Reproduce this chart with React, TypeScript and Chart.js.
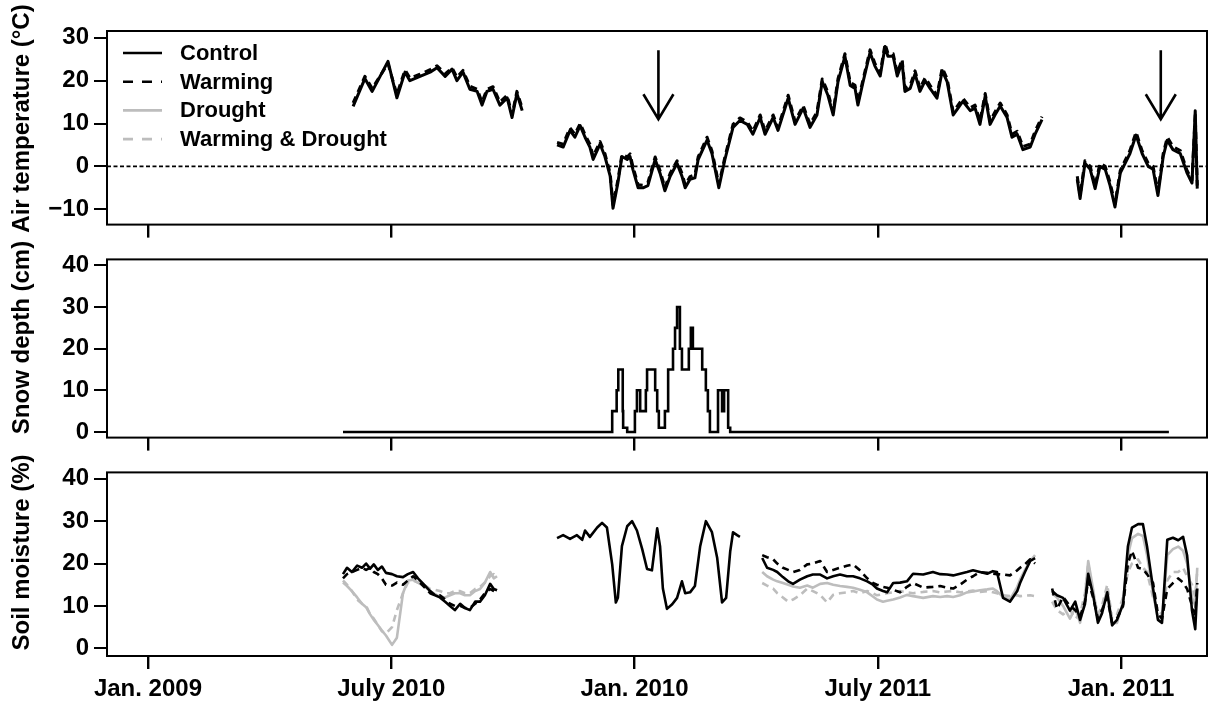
import React, { useEffect, useRef } from 'react';
import { Chart, registerables } from 'chart.js';

Chart.register(...registerables);

const FONT = "'Liberation Sans', Arial, Helvetica, sans-serif";
const BLACK = '#000000';
const GRAY = '#bdbdbd';

// x axis: months counted from the first tick
const xMin = -1.01;
const xMax = 26.12;
const xTickMonths = [0, 6, 12, 18, 24];
const xTickLabels = ['Jan. 2009', 'July 2010', 'Jan. 2010', 'July 2011', 'Jan. 2011'];

const airTicks = [-10, 0, 10, 20, 30];
const snowTicks = [0, 10, 20, 30, 40];
const soilTicks = [0, 10, 20, 30, 40];

const legendLabels = ['Control', 'Warming', 'Drought', 'Warming & Drought'];

const arrowMonths = [12.59, 24.98];
const arrowTopValue = 27.1;
const arrowTipValue = 11.0;

// ---------- Air temperature ----------
const airDatesA = [5.06, 5.35, 5.53, 5.92, 6.14, 6.34, 6.46, 6.71, 6.96, 7.13, 7.33, 7.5, 7.62, 7.77, 7.94, 8.12, 8.24, 8.36, 8.51, 8.68, 8.86, 8.98, 9.1, 9.23];
const airControlA = [14, 20.5, 17.5, 24.5, 16, 22, 20, 21, 22, 23, 21, 22.7, 20, 22, 18, 17.5, 14.3, 17.5, 18, 14.3, 16, 11.4, 17, 13];
const airWarmingA = [14.8, 21, 18.2, 24, 16.8, 22.5, 20.6, 21.5, 22.6, 23.5, 21.6, 23, 20.8, 22.4, 18.7, 18, 15, 18, 18.6, 15, 16.6, 12, 17.5, 13.6];

const airDatesB = [
  10.09, 10.24, 10.41, 10.53, 10.66, 10.78, 10.9, 10.98, 11.15, 11.27,
  11.4, 11.47, 11.59, 11.69, 11.82, 11.89, 11.96, 12.09, 12.21, 12.33,
  12.51, 12.63, 12.75, 12.88, 13.05, 13.17, 13.25, 13.37, 13.49, 13.57,
  13.79, 13.91, 13.99, 14.08, 14.23, 14.43, 14.6, 14.78, 14.92, 15.1,
  15.22, 15.42, 15.54, 15.79, 15.96, 16.16, 16.33, 16.5, 16.63, 16.77,
  16.9, 17.02, 17.19, 17.32, 17.44, 17.51, 17.64, 17.81, 17.93, 18.06,
  18.18, 18.25, 18.38, 18.48, 18.6, 18.67, 18.8, 18.92, 19.04, 19.17,
  19.29, 19.46, 19.59, 19.71, 19.86, 19.98, 20.1, 20.28, 20.4, 20.52,
  20.65, 20.77, 20.89, 21.02, 21.19, 21.31, 21.44, 21.58, 21.76, 21.88,
  22.05,
];
const airControlB = [
  5.0, 4.5, 8.4, 6.8, 9.5, 6.8, 4.5, 1.6, 5.2, 2.3,
  -2.3, -9.8, -3.9, 2.3, 1.6, 2.3, -0.7, -5, -5, -4.5,
  1.6, -1.6, -5.7, -2.3, 0.7, -2.3, -5, -3, -2.7, 1.6,
  6.1, 3, -0.7, -5, 1.6, 9.1, 10.7, 9.8, 7.5, 11.4,
  7.5, 11.4, 8.4, 15.9, 9.8, 13.6, 9.1, 12, 19.8, 16.6,
  12, 19.8, 25.7, 18.9, 18.2, 14.3, 19.8, 26.6, 23.4, 21.1,
  28, 25.7, 25.7, 21.1, 24.3, 17.5, 18.2, 21.6, 17.5, 20,
  18.2, 15.9, 22.3, 19.8, 12, 13.6, 15.2, 13, 13.6, 9.8,
  16.4, 9.8, 12, 14.1, 11.4, 6.8, 7.5, 3.9, 4.5, 7.5,
  10.9,
];
const airWarmingB = [
  5.6, 5.2, 9, 7.5, 10, 7.4, 5.2, 2.3, 5.8, 3,
  -1.6, -9, -3.2, 2.8, 2.2, 2.9, 0, -4.3, -4.4, -3.8,
  2.2, -1, -5, -1.6, 1.3, -1.6, -4.3, -2.4, -2, 2.2,
  6.8, 3.6, 0, -4.3, 2.2, 9.8, 11.3, 10.4, 8.2, 12,
  8.2, 12, 9, 16.6, 10.5, 14.2, 9.8, 12.7, 20.4, 17.3,
  12.7, 20.5, 26.3, 19.6, 18.9, 15, 20.4, 27.2, 24, 21.8,
  28.6, 26.4, 26.3, 21.8, 25, 18.2, 18.9, 22.3, 18.2, 20.7,
  18.9, 16.6, 23, 20.5, 12.7, 14.3, 15.9, 13.7, 14.3, 10.5,
  17, 10.5, 12.7, 14.8, 12, 7.5, 8.2, 4.6, 5.2, 8.2,
  11.6,
];

const airDatesC = [22.92, 22.99, 23.11, 23.24, 23.36, 23.48, 23.61, 23.73, 23.85, 23.98, 24.1, 24.22, 24.37, 24.52, 24.67, 24.79, 24.91, 25.04, 25.14, 25.28, 25.46, 25.63, 25.75, 25.83, 25.88];
const airControlC = [-3, -7.5, 0.7, -0.7, -5.2, 0, -0.7, -4.5, -9.5, -1.6, 0.7, 3, 7.3, 3, 0, -0.7, -6.8, 2.3, 6.1, 3.9, 3, -1.6, -3.9, 13, -5.2];
const airWarmingC = [-2.3, -6.8, 1.3, 0, -4.5, 0.7, 0, -3.8, -8.8, -1, 1.4, 3.7, 8, 3.6, 0.7, 0, -6, 3, 6.8, 4.6, 3.7, -1, -3.2, 12, -4.5];

// ---------- Snow depth ----------
const snowDates = [
  4.81, 11.45, 11.56, 11.6, 11.71, 11.72, 11.82, 12.01, 12.06, 12.14,
  12.28, 12.31, 12.51, 12.56, 12.6, 12.75, 12.83, 12.95, 13.0, 13.05,
  13.12, 13.17, 13.34, 13.39, 13.44, 13.67, 13.76, 13.81, 13.86, 14.06,
  14.16, 14.21, 14.31, 14.36, 25.18,
];
const snowDepth = [
  0, 5, 10, 15, 5, 1, 0, 5, 10, 5,
  10, 15, 10, 5, 1, 5, 15, 20, 25, 30,
  20, 15, 20, 25, 20, 15, 10, 5, 0, 10,
  5, 10, 1, 0, 0,
];

// ---------- Soil moisture ----------
const soilDatesA = [4.81, 4.91, 5.03, 5.16, 5.28, 5.38, 5.48, 5.57, 5.67, 5.77, 5.87, 6.02, 6.14, 6.29, 6.41, 6.54, 6.66, 6.81, 6.96, 7.08, 7.2, 7.33, 7.45, 7.57, 7.7, 7.82, 7.94, 8.07, 8.19, 8.31, 8.44, 8.53, 8.61];
const soilControlA = [17.5, 19, 18, 19.5, 19, 20, 18.8, 19.8, 18.5, 19.3, 17.8, 17.5, 17, 16.8, 17.5, 18, 16.5, 15, 13.5, 12.5, 12, 11, 10, 9, 10.5, 9.5, 9, 11, 11, 12.5, 15.2, 14, 13.7];
const soilWarmingA = [16.5, 17.5, 18, 18.5, 19, 18.5, 19, 18, 17.5, 16.5, 15, 14.8, 15.5, 15, 16, 17, 16, 14.5, 13, 12.5, 12.5, 11.5, 10.5, 10, 10, 9.5, 9.5, 10.5, 11.5, 13, 14, 13.5, 13];
const soilDroughtA = [15.5, 14.7, 13.5, 12, 10.5, 9.7, 8, 6.7, 5.5, 4.2, 3, 0.8, 2.5, 13, 16, 16.2, 15.5, 14.7, 13.5, 12.8, 12.2, 12, 12.5, 13, 13, 12.5, 12.5, 13.5, 14, 15.5, 18, 16.5, 17];
const soilWDA = [16, 15, 13.5, 11.5, 10.5, 10, 8, 7, 5.5, 4, 3.5, 5, 9, 13, 15.5, 16, 15.5, 15, 14, 13.8, 13.5, 13, 13, 13.5, 13.5, 13, 13, 14, 14.5, 15.5, 17, 17.5, 16.5];

const soilDatesB = [10.09, 10.24, 10.41, 10.58, 10.71, 10.78, 10.9, 11.08, 11.2, 11.32, 11.45, 11.54, 11.59, 11.69, 11.82, 11.94, 12.06, 12.19, 12.31, 12.43, 12.56, 12.63, 12.7, 12.8, 12.93, 13.05, 13.17, 13.25, 13.37, 13.49, 13.62, 13.76, 13.91, 14.04, 14.16, 14.26, 14.36, 14.43, 14.53, 14.6];
const soilControlB = [26, 26.7, 25.8, 26.7, 25.6, 27.8, 26.3, 28.5, 29.6, 28.5, 19.8, 10.8, 11.9, 24.1, 28.8, 30, 27.8, 23.4, 18.7, 18.4, 28.3, 24.1, 14.1, 9.3, 10.4, 11.9, 15.8, 13, 13.2, 14.7, 24.1, 30, 27.4, 21.3, 10.8, 11.9, 22.8, 27.4, 26.7, 26.3];

const soilDatesC = [15.15, 15.27, 15.42, 15.52, 15.66, 15.79, 15.91, 16.08, 16.26, 16.4, 16.58, 16.75, 16.9, 17.07, 17.24, 17.39, 17.56, 17.74, 17.88, 17.98, 18.13, 18.23, 18.38, 18.55, 18.72, 18.87, 19.12, 19.36, 19.54, 19.71, 19.86, 20.03, 20.2, 20.35, 20.52, 20.7, 20.84, 20.94, 21.09, 21.26, 21.44, 21.51, 21.63, 21.76, 21.88];
const soilControlC = [21.3, 19, 18.5, 18, 16.8, 15.8, 15.2, 16.2, 17, 17.4, 17.4, 16.5, 17, 17.4, 17, 17, 16.5, 15.8, 15, 14.1, 13.5, 13.2, 15.4, 15.5, 15.8, 17.6, 17.4, 18, 17.5, 17.4, 17.2, 17.6, 18, 18.4, 18, 17.6, 18.2, 18, 11.9, 11, 13.5, 15.4, 18, 20.6, 21.3];
const soilWarmingC = [22, 21.5, 21, 20, 19, 18.5, 18, 18.5, 19.8, 20, 20.6, 18, 18.5, 19, 19.5, 19.8, 18.4, 16.5, 15.4, 15, 14.5, 14.3, 13.8, 13.2, 14.5, 15.4, 14.3, 14.5, 14.7, 14.3, 14.1, 15, 16.2, 17, 18, 17.8, 17.6, 17.5, 17.4, 17.2, 18.4, 19, 19.8, 21, 20];
const soilDroughtC = [18, 17, 16.2, 15.8, 15.4, 15, 14.6, 14.3, 14.8, 14.3, 15.2, 15.4, 15, 14.7, 14.5, 14.3, 13.8, 13.2, 12.2, 11.5, 11, 11.2, 11.5, 12, 12.6, 12.3, 11.9, 12.3, 12.1, 12.3, 12.1, 12.5, 13.2, 13.4, 13.7, 13.9, 14.1, 13.5, 12.1, 11.5, 14.5, 16.2, 18.5, 20.6, 22];
const soilWDC = [15.4, 14.8, 14.1, 13, 12, 11, 11.5, 12.5, 14.1, 13.5, 12.6, 10.8, 12.6, 13, 13.2, 13.5, 13, 13.5, 13, 12.5, 12.8, 13, 13.2, 13.5, 13.2, 13, 13.3, 13.5, 13.2, 13.4, 13.5, 13.2, 13.4, 13.6, 13.3, 13.5, 13.2, 13, 12.5, 12.3, 12.5, 12.3, 12.4, 12.5, 12.3];

const soilDatesD = [22.3, 22.42, 22.57, 22.74, 22.87, 22.99, 23.11, 23.19, 23.31, 23.43, 23.53, 23.66, 23.78, 23.9, 24.05, 24.17, 24.27, 24.42, 24.54, 24.64, 24.79, 24.91, 25.01, 25.14, 25.28, 25.41, 25.53, 25.63, 25.75, 25.83, 25.88];
const soilControlD = [13.5, 12.5, 11.9, 8.9, 11, 6.7, 10.4, 17.6, 12.6, 6, 8.2, 13.2, 5.4, 6.7, 10.4, 24.1, 28.5, 29.3, 29.3, 24.1, 14.1, 6.7, 6, 25.6, 26.1, 25.5, 26.3, 21.9, 8.9, 4.5, 14.1];
const soilWarmingD = [14.1, 9.3, 12.1, 10, 9, 7.5, 11, 16, 12, 7, 9, 12, 6, 7, 10, 20, 23, 19, 18.7, 17.5, 15.4, 8, 7, 14, 15.4, 16.5, 15.5, 14, 10, 8, 15.4];
const soilDroughtD = [13, 12, 10, 7, 9.5, 6, 12, 20.6, 14, 6.5, 9, 14, 6, 6, 11, 22, 26, 27, 26.5, 22, 13, 7, 6.5, 22, 23.4, 24, 23, 20, 12, 10, 19];
const soilWDD = [11, 9, 8, 9, 7, 8, 13, 20, 13, 8, 10, 15, 7, 8, 12, 18, 20, 21, 19, 18, 12, 9, 8, 16, 18, 18, 19, 17, 15, 12, 18.5];

type Seg = [number[], (number | null)[]];

function toPoints(segs: Seg[]) {
  const out: { x: number; y: number | null }[] = [];
  segs.forEach(([d, v], si) => {
    if (si > 0) out.push({ x: d[0], y: null });
    d.forEach((x, i) => out.push({ x, y: v[i] }));
  });
  return out;
}

const seriesStyles = [
  { color: BLACK, dash: [] as number[], width: 2.6 },
  { color: BLACK, dash: [7, 5], width: 2.6 },
  { color: GRAY, dash: [] as number[], width: 2.6 },
  { color: GRAY, dash: [7, 5], width: 2.6 },
];
const legendDash = [[], [10, 9], [], [10, 9]];

function lineDataset(label: string, segs: Seg[], styleIdx: number, extra: any = {}) {
  const s = seriesStyles[styleIdx];
  return {
    label,
    data: toPoints(segs),
    borderColor: s.color,
    borderDash: s.dash,
    borderWidth: s.width,
    pointRadius: 0,
    tension: 0,
    fill: false,
    spanGaps: false,
    borderJoinStyle: 'round',
    ...extra,
  };
}

const tickFont = { family: FONT, size: 24, weight: 'bold' as const };

function fmt(v: number) {
  return v < 0 ? '\u2212' + Math.abs(v) : String(v);
}

const boxPlugin = {
  id: 'box',
  afterDraw(chart: any) {
    const { ctx, chartArea: a } = chart;
    ctx.save();
    ctx.strokeStyle = BLACK;
    ctx.lineWidth = 2;
    ctx.setLineDash([]);
    ctx.strokeRect(a.left, a.top, a.right - a.left, a.bottom - a.top);
    ctx.restore();
  },
};

function titlePlugin(text: string, y: number) {
  return {
    id: 'ytitle',
    afterDraw(chart: any) {
      const ctx = chart.ctx;
      ctx.save();
      ctx.translate(22, y);
      ctx.rotate(-Math.PI / 2);
      ctx.font = `bold 24px ${FONT}`;
      ctx.fillStyle = BLACK;
      ctx.textAlign = 'center';
      ctx.textBaseline = 'middle';
      ctx.fillText(text, 0, 0);
      ctx.restore();
    },
  };
}

const legendPlugin = {
  id: 'customLegend',
  afterDraw(chart: any) {
    const { ctx, chartArea: a } = chart;
    ctx.save();
    legendLabels.forEach((lab, i) => {
      const s = seriesStyles[i];
      const y = a.top + 22 + i * 28.7;
      ctx.beginPath();
      ctx.strokeStyle = s.color;
      ctx.lineWidth = 2.6;
      ctx.setLineDash(legendDash[i]);
      ctx.moveTo(a.left + 16, y);
      ctx.lineTo(a.left + 55, y);
      ctx.stroke();
      ctx.setLineDash([]);
      ctx.font = `bold 22px ${FONT}`;
      ctx.fillStyle = BLACK;
      ctx.textAlign = 'left';
      ctx.textBaseline = 'middle';
      ctx.fillText(lab, a.left + 73, y + 1);
    });
    ctx.restore();
  },
};

const arrowPlugin = {
  id: 'arrows',
  afterDatasetsDraw(chart: any) {
    const { ctx } = chart;
    const xs = chart.scales.x;
    const ys = chart.scales.y;
    ctx.save();
    ctx.strokeStyle = BLACK;
    ctx.lineWidth = 2.6;
    ctx.setLineDash([]);
    arrowMonths.forEach((m) => {
      const px = xs.getPixelForValue(m);
      const top = ys.getPixelForValue(arrowTopValue);
      const tip = ys.getPixelForValue(arrowTipValue);
      ctx.beginPath();
      ctx.moveTo(px, top);
      ctx.lineTo(px, tip);
      ctx.moveTo(px - 15, tip - 25);
      ctx.lineTo(px, tip);
      ctx.lineTo(px + 15, tip - 25);
      ctx.stroke();
    });
    ctx.restore();
  },
};

function makeConfig(opts: {
  datasets: any[];
  yMin: number;
  yMax: number;
  yTicks: number[];
  showX: boolean;
  padTop: number;
  xHeight: number;
  plugins: any[];
}): any {
  return {
    type: 'line',
    data: { datasets: opts.datasets },
    options: {
      animation: false,
      responsive: false,
      events: [],
      layout: { padding: { top: opts.padTop, right: 1, left: 0, bottom: 0 } },
      plugins: { legend: { display: false }, tooltip: { enabled: false } },
      scales: {
        x: {
          type: 'linear',
          min: xMin,
          max: xMax,
          afterBuildTicks: (s: any) => {
            s.ticks = xTickMonths.map((v) => ({ value: v }));
          },
          afterFit: (s: any) => {
            s.height = opts.xHeight;
          },
          grid: { display: true, drawOnChartArea: false, drawTicks: true, tickLength: 13, color: BLACK, lineWidth: 2.4 },
          border: { display: false },
          ticks: {
            display: opts.showX,
            autoSkip: false,
            maxRotation: 0,
            padding: 6,
            color: BLACK,
            font: tickFont,
            callback: (_v: any, i: number) => xTickLabels[i],
          },
        },
        y: {
          type: 'linear',
          min: opts.yMin,
          max: opts.yMax,
          afterBuildTicks: (s: any) => {
            s.ticks = opts.yTicks.map((v) => ({ value: v }));
          },
          afterFit: (s: any) => {
            s.width = 107;
          },
          grid: { display: true, drawOnChartArea: false, drawTicks: true, tickLength: 13, color: BLACK, lineWidth: 2 },
          border: { display: false },
          ticks: { padding: 5, color: BLACK, font: tickFont, callback: (v: number) => fmt(v) },
        },
      },
    },
    plugins: [boxPlugin, ...opts.plugins],
  };
}

function airConfig() {
  const zero = {
    label: 'zero',
    data: [{ x: xMin, y: 0 }, { x: xMax, y: 0 }],
    borderColor: BLACK,
    borderDash: [4, 2.5],
    borderWidth: 1.6,
    pointRadius: 0,
  };
  return makeConfig({
    datasets: [
      lineDataset('Control', [[airDatesA, airControlA], [airDatesB, airControlB], [airDatesC, airControlC]], 0, { borderWidth: 3 }),
      lineDataset('Warming', [[airDatesA, airWarmingA], [airDatesB, airWarmingB], [airDatesC, airWarmingC]], 1, { borderWidth: 3 }),
      zero,
    ],
    yMin: -13.6,
    yMax: 31.6,
    yTicks: airTicks,
    showX: false,
    padTop: 31,
    xHeight: 14,
    plugins: [titlePlugin('Air temperature (\u00B0C)', 118.5), legendPlugin, arrowPlugin],
  });
}

function snowConfig() {
  return makeConfig({
    datasets: [lineDataset('Control', [[snowDates, snowDepth]], 0, { stepped: true, borderJoinStyle: 'miter' })],
    yMin: -1.36,
    yMax: 41.45,
    yTicks: snowTicks,
    showX: false,
    padTop: 4,
    xHeight: 15,
    plugins: [titlePlugin('Snow depth (cm)', 97.5)],
  });
}

function soilConfig() {
  return makeConfig({
    datasets: [
      lineDataset('Control', [[soilDatesA, soilControlA], [soilDatesB, soilControlB], [soilDatesC, soilControlC], [soilDatesD, soilControlD]], 0),
      lineDataset('Warming', [[soilDatesA, soilWarmingA], [soilDatesC, soilWarmingC], [soilDatesD, soilWarmingD]], 1),
      lineDataset('Drought', [[soilDatesA, soilDroughtA], [soilDatesC, soilDroughtC], [soilDatesD, soilDroughtD]], 2),
      lineDataset('Warming & Drought', [[soilDatesA, soilWDA], [soilDatesC, soilWDC], [soilDatesD, soilWDD]], 3),
    ],
    yMin: -1.83,
    yMax: 41.52,
    yTicks: soilTicks,
    showX: true,
    padTop: 4,
    xHeight: 46,
    plugins: [titlePlugin('Soil moisture (%)', 99.5)],
  });
}

function Panel({ make, top, height }: { make: () => any; top: number; height: number }) {
  const ref = useRef<HTMLCanvasElement>(null);
  useEffect(() => {
    const chart = new Chart(ref.current as HTMLCanvasElement, make());
    return () => chart.destroy();
  }, []);
  return (
    <canvas
      ref={ref}
      width={1208}
      height={height}
      style={{ position: 'absolute', left: 0, top, width: 1208, height, display: 'block' }}
    />
  );
}

export default function App() {
  return (
    <div style={{ position: 'fixed', left: 0, top: 0, width: 1208, height: 702, background: '#ffffff', overflow: 'hidden' }}>
      <Panel make={airConfig} top={0} height={244} />
      <Panel make={snowConfig} top={240} height={217} />
      <Panel make={soilConfig} top={453} height={249} />
    </div>
  );
}
